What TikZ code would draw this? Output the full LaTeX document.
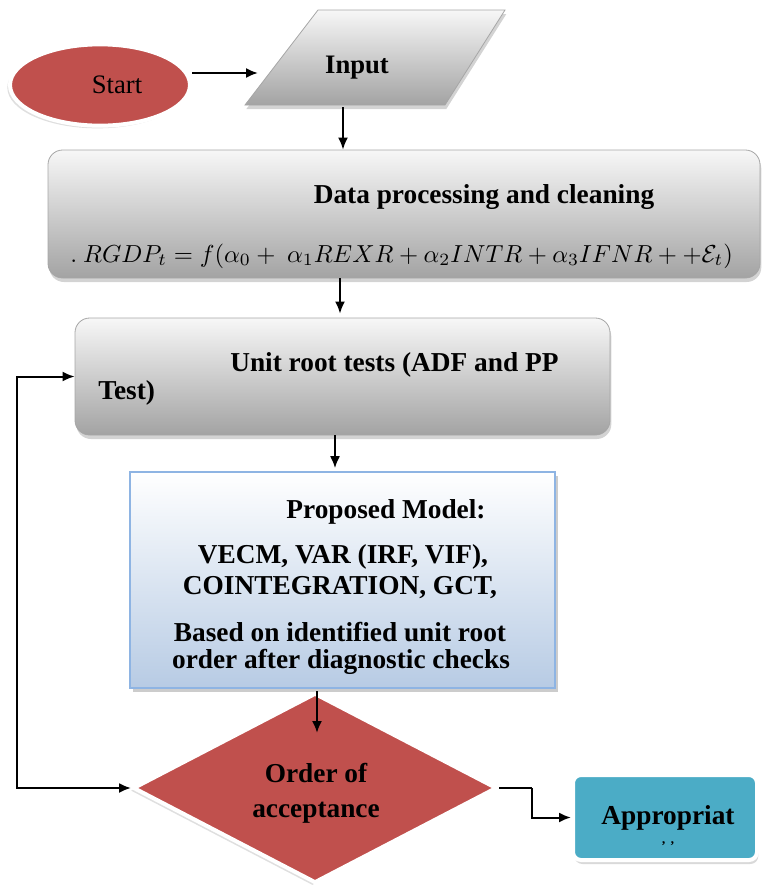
\documentclass[tikz,border=0pt]{standalone}
\usepackage{fontspec}
\setmainfont{Liberation Serif}
\usepackage{graphicx}
\usetikzlibrary{shapes.geometric,arrows.meta,shadows,calc}
\definecolor{myred}{HTML}{C0504D}
\definecolor{myteal}{HTML}{4BACC6}
\definecolor{gtop}{HTML}{F7F7F7}
\definecolor{gbot}{HTML}{A3A3A3}
\definecolor{btop}{HTML}{FFFFFF}
\definecolor{bbot}{HTML}{B7CBE4}
\definecolor{bline}{HTML}{8EB4E3}
\tikzset{
  txt/.style={font=\fontsize{20.5}{23}\selectfont\bfseries, inner sep=0pt},
  graybox/.style={rounded corners=11pt, draw=gray!70, line width=0.6pt,
    top color=gtop, bottom color=gbot,
    drop shadow={shadow xshift=1pt, shadow yshift=-3pt, opacity=0.35}},
  redshape/.style={fill=myred, draw=white, line width=3pt,
    drop shadow={shadow xshift=-2pt, shadow yshift=-2pt, opacity=0.25}},
  arr/.style={line width=1.5pt, -{Latex[length=9pt,width=7.5pt]}},
  barr/.style={line width=1.5pt, {Latex[length=9pt,width=7.5pt]}-{Latex[length=9pt,width=7.5pt]}}
}
\begin{document}
\begin{tikzpicture}[x=0.75pt,y=-0.75pt]
\useasboundingbox (0,0) rectangle (769,886);

% Start
\node[ellipse, redshape, minimum width=135pt, minimum height=61pt] (start) at (100,85) {};
\node[font=\fontsize{20}{23}\selectfont, inner sep=0pt] (starttxt) at (117,85) {Start};

% Input parallelogram
\path[draw=gray!70, line width=0.6pt, top color=gtop, bottom color=gbot,
  drop shadow={shadow xshift=1pt, shadow yshift=-3pt, opacity=0.35}]
  (245,105) -- (445,105) -- (505,10) -- (318,10) -- cycle;
\node[txt, font=\fontsize{20}{23}\selectfont\bfseries] (input) at (357,68) {Input};
\coordinate (inL) at (258,73);
\coordinate (inS) at (343,107);

% Data processing
\node[graybox, minimum width=534pt, minimum height=96pt] (data) at (404,214) {};
\node[txt] (datatxt) at (484,197) {Data processing and cleaning};
\node[inner sep=0pt, anchor=west] (eq) at (70,256)
  {\resizebox{497pt}{!}{$.\ RGDP_t = f(\alpha_0 +\ \alpha_1 REXR + \alpha_2 INTR + \alpha_3 IFNR + {+}\mathcal{E}_t)$}};

% Unit root
\node[graybox, minimum width=401.25pt, minimum height=87.75pt] (unit) at (342.5,376.5) {};
\node[txt, anchor=west] (unit1) at (230,365) {Unit root tests (ADF and PP};
\node[txt, anchor=west] (unit2) at (98,393) {Test)};

% Proposed model
\node[draw=bline, line width=1.2pt, top color=btop, bottom color=bbot,
  minimum width=318.75pt, minimum height=162pt,
  drop shadow={shadow xshift=2pt, shadow yshift=-3pt, opacity=0.4}] (prop) at (342.5,580) {};
\node[txt] (p1) at (386,512) {Proposed Model:};
\node[txt] (p2) at (343,557) {VECM, VAR (IRF, VIF),};
\node[txt] (p3) at (340,588) {COINTEGRATION, GCT,};
\node[txt] (p4) at (340,632) {Based on identified unit root};
\node[txt] (p5) at (341,662) {order after diagnostic checks};

% Decision diamond
\node[diamond, aspect=2, redshape, minimum width=273pt, minimum height=142.5pt, inner sep=0pt] (dia) at (315,788) {};
\node[txt, align=center, font=\fontsize{20.5}{26}\selectfont\bfseries] (diatxt) at (316,793) {Order of\\acceptance};
\coordinate (diain) at (317,733);

% Appropriate box
\node[rounded corners=6pt, fill=myteal, draw=white, line width=3pt,
  minimum width=138pt, minimum height=63.75pt,
  drop shadow={shadow xshift=1pt, shadow yshift=-3pt, opacity=0.3}] (app) at (665,817.5) {};
\node[txt] (apptxt) at (668,818) {Appropriat};
\node[txt, font=\fontsize{10}{12}\selectfont\bfseries] (appfrag) at (668,846) {'\,\,'};

% Connectors
\draw[arr] (start.east |- inL) -- (inL);
\draw[arr] (inS) -- (data.north -| inS);
\draw[arr] (data.south -| 340,0) -- ($(unit.north -| 340,0)+(0,-4)$);
\draw[arr] (unit.south -| 335,0) -- ($(prop.north -| 335,0)+(0,-3)$);
\draw[arr] (dia.north -| diain) -- (diain);
\draw[barr] (dia.west) -- (17,788) |- (unit.west);
\draw[line width=1.5pt] (dia.east) -- (532,788) coordinate (bend);
\draw[arr] (bend) |- (app.west);
\end{tikzpicture}
\end{document}
